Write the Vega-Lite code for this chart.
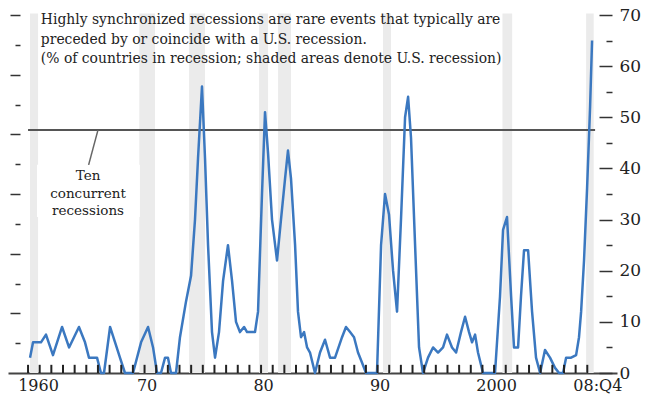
{
  "$schema": "https://vega.github.io/schema/vega-lite/v6.json",
  "width": 609,
  "height": 358,
  "autosize": {"type": "none"},
  "padding": {"left": 8, "top": 15, "right": 29, "bottom": 25},
  "background": "white",
  "config": {"view": {"stroke": null}, "font": "DejaVu Serif"},
  "resolve": {"axis": {"x": "independent", "y": "independent"}},
  "layer": [
    {
      "data": {"values": [
        {"start": 1960.17, "end": 1960.86},
        {"start": 1969.55, "end": 1970.9},
        {"start": 1973.82, "end": 1975.19},
        {"start": 1979.83, "end": 1980.6},
        {"start": 1981.46, "end": 1982.57},
        {"start": 1990.47, "end": 1991.15},
        {"start": 2000.72, "end": 2001.55},
        {"start": 2007.9, "end": 2008.55}
      ]},
      "mark": {"type": "rect", "color": "#ebebeb"},
      "encoding": {
        "x": {"field": "start", "type": "quantitative", "scale": {"domain": [1958.28, 2010.55], "nice": false, "zero": false}, "axis": {
          "values": [1960, 1970, 1980, 1990, 2000, 2008],
          "labelExpr": "datum.value == 1960 ? '1960' : datum.value == 1970 ? '70' : datum.value == 1980 ? '80' : datum.value == 1990 ? '90' : datum.value == 2000 ? '2000' : datum.value == 2008 ? '08:Q4' : ''",
          "labelOffset": {"condition": {"test": "datum.value == 1960 || datum.value == 2008", "value": 10}, "value": 2},
          "labelFlush": false, "labelOverlap": false, "labelBound": false,
          "labelFontSize": 16, "labelColor": "#222222", "labelPadding": 4,
          "ticks": false,
          "domainColor": "#444444", "domainWidth": 2,
          "grid": false, "title": null, "zindex": 0
        }},
        "x2": {"field": "end"},
        "y": {"datum": 0, "type": "quantitative", "scale": {"domain": [0, 70], "nice": false}, "axis": null},
        "y2": {"datum": 70.3}
      }
    },
    {
      "data": {"values": [{"label": "Ten concurrent recessions", "level": 47.5, "from": 1960.0, "to": 2008.67}]},
      "mark": {"type": "rule", "color": "#555555", "strokeWidth": 2},
      "encoding": {
        "x": {"field": "from", "type": "quantitative", "axis": null},
        "x2": {"field": "to"},
        "y": {"field": "level", "type": "quantitative", "axis": {
          "orient": "left",
          "values": [5.8333, 11.6667, 17.5, 23.3333, 29.1667, 35, 40.8333, 46.6667, 52.5, 58.3333, 64.1667, 70],
          "labels": false, "domain": false, "grid": false, "title": null,
          "offset": -12,
          "tickColor": "#333333", "tickWidth": 1.5,
          "tickSize": {"condition": {"test": "round(datum.value*12/70) % 2 === 0", "value": 10}, "value": 5}
        }}
      }
    },
    {
      "data": {"values": [{"box": "Ten concurrent recessions", "x0": 1960.77, "x1": 1969.6, "y0": 40.7, "y1": 30.5}]},
      "mark": {"type": "rect", "color": "white"},
      "encoding": {
        "x": {"field": "x0", "type": "quantitative", "axis": null},
        "x2": {"field": "x1"},
        "y": {"field": "y0", "type": "quantitative", "axis": null},
        "y2": {"field": "y1"}
      }
    },
    {
      "data": {"values": [{"x0": 1966.0, "x1": 1965.2, "y0": 47.5, "y1": 40.7}]},
      "mark": {"type": "rule", "color": "#666666", "strokeWidth": 1.5},
      "encoding": {
        "x": {"field": "x0", "type": "quantitative", "axis": null},
        "x2": {"field": "x1"},
        "y": {"field": "y0", "type": "quantitative", "axis": null},
        "y2": {"field": "y1"}
      }
    },
    {
      "data": {"values": [{"note": "Ten\nconcurrent\nrecessions", "x": 1965.15, "y": 37.7}]},
      "mark": {"type": "text", "align": "center", "baseline": "alphabetic", "lineBreak": "\n", "lineHeight": 17.5, "fontSize": 13.5, "color": "#222222"},
      "encoding": {
        "x": {"field": "x", "type": "quantitative", "axis": null},
        "y": {"field": "y", "type": "quantitative", "axis": null},
        "text": {"field": "note"}
      }
    },
    {
      "data": {"values": [
        {"t": 1960.17, "v": 3}, {"t": 1960.43, "v": 6}, {"t": 1961.11, "v": 6}, {"t": 1961.54, "v": 7.5},
        {"t": 1962.14, "v": 3.5}, {"t": 1962.92, "v": 9}, {"t": 1963.52, "v": 5}, {"t": 1964.37, "v": 9},
        {"t": 1964.89, "v": 6}, {"t": 1965.23, "v": 3}, {"t": 1965.92, "v": 3}, {"t": 1966.26, "v": 0},
        {"t": 1966.52, "v": 0}, {"t": 1967.04, "v": 9}, {"t": 1967.47, "v": 6}, {"t": 1967.89, "v": 3},
        {"t": 1968.32, "v": 0}, {"t": 1969.01, "v": 0}, {"t": 1969.7, "v": 6}, {"t": 1970.3, "v": 9},
        {"t": 1970.73, "v": 5}, {"t": 1971.07, "v": 0}, {"t": 1971.41, "v": 0}, {"t": 1971.76, "v": 3},
        {"t": 1972.01, "v": 3}, {"t": 1972.27, "v": 0}, {"t": 1972.7, "v": 0}, {"t": 1973.04, "v": 7},
        {"t": 1973.56, "v": 14}, {"t": 1973.99, "v": 19}, {"t": 1974.33, "v": 30}, {"t": 1974.59, "v": 42},
        {"t": 1974.93, "v": 56}, {"t": 1975.19, "v": 42}, {"t": 1975.45, "v": 25}, {"t": 1975.79, "v": 8},
        {"t": 1976.05, "v": 3}, {"t": 1976.39, "v": 8}, {"t": 1976.74, "v": 18}, {"t": 1977.16, "v": 25},
        {"t": 1977.51, "v": 18}, {"t": 1977.85, "v": 10}, {"t": 1978.19, "v": 8}, {"t": 1978.54, "v": 9},
        {"t": 1978.8, "v": 8}, {"t": 1979.48, "v": 8}, {"t": 1979.74, "v": 12}, {"t": 1980.08, "v": 35},
        {"t": 1980.34, "v": 51}, {"t": 1980.6, "v": 43}, {"t": 1980.94, "v": 30}, {"t": 1981.37, "v": 22},
        {"t": 1981.71, "v": 30}, {"t": 1982.06, "v": 38}, {"t": 1982.31, "v": 43.5}, {"t": 1982.57, "v": 38},
        {"t": 1982.92, "v": 25}, {"t": 1983.17, "v": 12}, {"t": 1983.43, "v": 7}, {"t": 1983.69, "v": 8},
        {"t": 1983.95, "v": 5}, {"t": 1984.2, "v": 4}, {"t": 1984.63, "v": 0}, {"t": 1985.06, "v": 4},
        {"t": 1985.49, "v": 6.5}, {"t": 1985.92, "v": 3}, {"t": 1986.35, "v": 3}, {"t": 1986.95, "v": 7},
        {"t": 1987.29, "v": 9}, {"t": 1987.64, "v": 8}, {"t": 1987.98, "v": 7}, {"t": 1988.32, "v": 4},
        {"t": 1988.67, "v": 2}, {"t": 1989.01, "v": 0}, {"t": 1989.61, "v": 0}, {"t": 1989.95, "v": 0},
        {"t": 1990.3, "v": 25}, {"t": 1990.64, "v": 35}, {"t": 1990.98, "v": 31}, {"t": 1991.33, "v": 20},
        {"t": 1991.67, "v": 12}, {"t": 1992.01, "v": 30}, {"t": 1992.36, "v": 50}, {"t": 1992.62, "v": 54},
        {"t": 1992.87, "v": 46}, {"t": 1993.22, "v": 25}, {"t": 1993.56, "v": 5}, {"t": 1993.9, "v": 0},
        {"t": 1994.33, "v": 3}, {"t": 1994.76, "v": 5}, {"t": 1995.19, "v": 4}, {"t": 1995.62, "v": 5},
        {"t": 1995.96, "v": 7.5}, {"t": 1996.39, "v": 5}, {"t": 1996.74, "v": 4}, {"t": 1997.16, "v": 8},
        {"t": 1997.51, "v": 11}, {"t": 1997.85, "v": 8}, {"t": 1998.11, "v": 6}, {"t": 1998.37, "v": 7.5},
        {"t": 1998.62, "v": 4}, {"t": 1999.05, "v": 0}, {"t": 1999.65, "v": 0}, {"t": 2000.08, "v": 0},
        {"t": 2000.51, "v": 15}, {"t": 2000.77, "v": 28}, {"t": 2001.11, "v": 30.5}, {"t": 2001.46, "v": 15},
        {"t": 2001.71, "v": 5}, {"t": 2002.06, "v": 5}, {"t": 2002.31, "v": 15}, {"t": 2002.57, "v": 24},
        {"t": 2002.92, "v": 24}, {"t": 2003.26, "v": 12}, {"t": 2003.6, "v": 3}, {"t": 2003.95, "v": 0},
        {"t": 2004.37, "v": 4.5}, {"t": 2004.8, "v": 3}, {"t": 2005.23, "v": 1}, {"t": 2005.58, "v": 0},
        {"t": 2005.92, "v": 0}, {"t": 2006.18, "v": 3}, {"t": 2006.61, "v": 3}, {"t": 2007.04, "v": 3.5},
        {"t": 2007.29, "v": 7}, {"t": 2007.47, "v": 12}, {"t": 2007.72, "v": 22}, {"t": 2007.98, "v": 36},
        {"t": 2008.24, "v": 52}, {"t": 2008.41, "v": 65}
      ]},
      "mark": {"type": "line", "color": "#3b78c0", "strokeWidth": 2.5, "strokeJoin": "round"},
      "encoding": {
        "x": {"field": "t", "type": "quantitative", "axis": null},
        "y": {"field": "v", "type": "quantitative", "axis": {
          "orient": "right",
          "values": [0,5,10,15,20,25,30,35,40,45,50,55,60,65,70],
          "labelExpr": "datum.value % 10 === 0 ? datum.label : ''",
          "domain": false, "grid": false, "title": null,
          "offset": -5,
          "tickColor": "#333333", "tickWidth": 1.5,
          "tickSize": {"condition": {"test": "datum.value % 10 === 0", "value": -13}, "value": -6},
          "labelFontSize": 17, "labelColor": "#222222", "labelPadding": 20, "labelFlush": false
        }}
      }
    },
    {
      "data": {"values": [{"note": "Highly synchronized recessions are rare events that typically are\npreceded by or coincide with a U.S. recession.\n(% of countries in recession; shaded areas denote U.S. recession)", "x": 1961.1, "y": 68.2}]},
      "mark": {"type": "text", "align": "left", "baseline": "alphabetic", "lineBreak": "\n", "lineHeight": 19.5, "fontSize": 13.9, "color": "#222222"},
      "encoding": {
        "x": {"field": "x", "type": "quantitative", "axis": null},
        "y": {"field": "y", "type": "quantitative", "axis": null},
        "text": {"field": "note"}
      }
    },
    {
      "data": {"values": [
        {"yr": 1960}, {"yr": 1961}, {"yr": 1962}, {"yr": 1963}, {"yr": 1964}, {"yr": 1965}, {"yr": 1966}, {"yr": 1967}, {"yr": 1968}, {"yr": 1969},
        {"yr": 1970}, {"yr": 1971}, {"yr": 1972}, {"yr": 1973}, {"yr": 1974}, {"yr": 1975}, {"yr": 1976}, {"yr": 1977}, {"yr": 1978}, {"yr": 1979},
        {"yr": 1980}, {"yr": 1981}, {"yr": 1982}, {"yr": 1983}, {"yr": 1984}, {"yr": 1985}, {"yr": 1986}, {"yr": 1987}, {"yr": 1988}, {"yr": 1989},
        {"yr": 1990}, {"yr": 1991}, {"yr": 1992}, {"yr": 1993}, {"yr": 1994}, {"yr": 1995}, {"yr": 1996}, {"yr": 1997}, {"yr": 1998}, {"yr": 1999},
        {"yr": 2000}, {"yr": 2001}, {"yr": 2002}, {"yr": 2003}, {"yr": 2004}, {"yr": 2005}, {"yr": 2006}, {"yr": 2007}, {"yr": 2008}
      ]},
      "mark": {"type": "rule", "color": "#222222", "strokeWidth": 2, "clip": false},
      "encoding": {
        "x": {"field": "yr", "type": "quantitative", "axis": null},
        "y": {"datum": 0, "type": "quantitative", "axis": null},
        "y2": {"datum": 1.6}
      }
    }
  ]
}
